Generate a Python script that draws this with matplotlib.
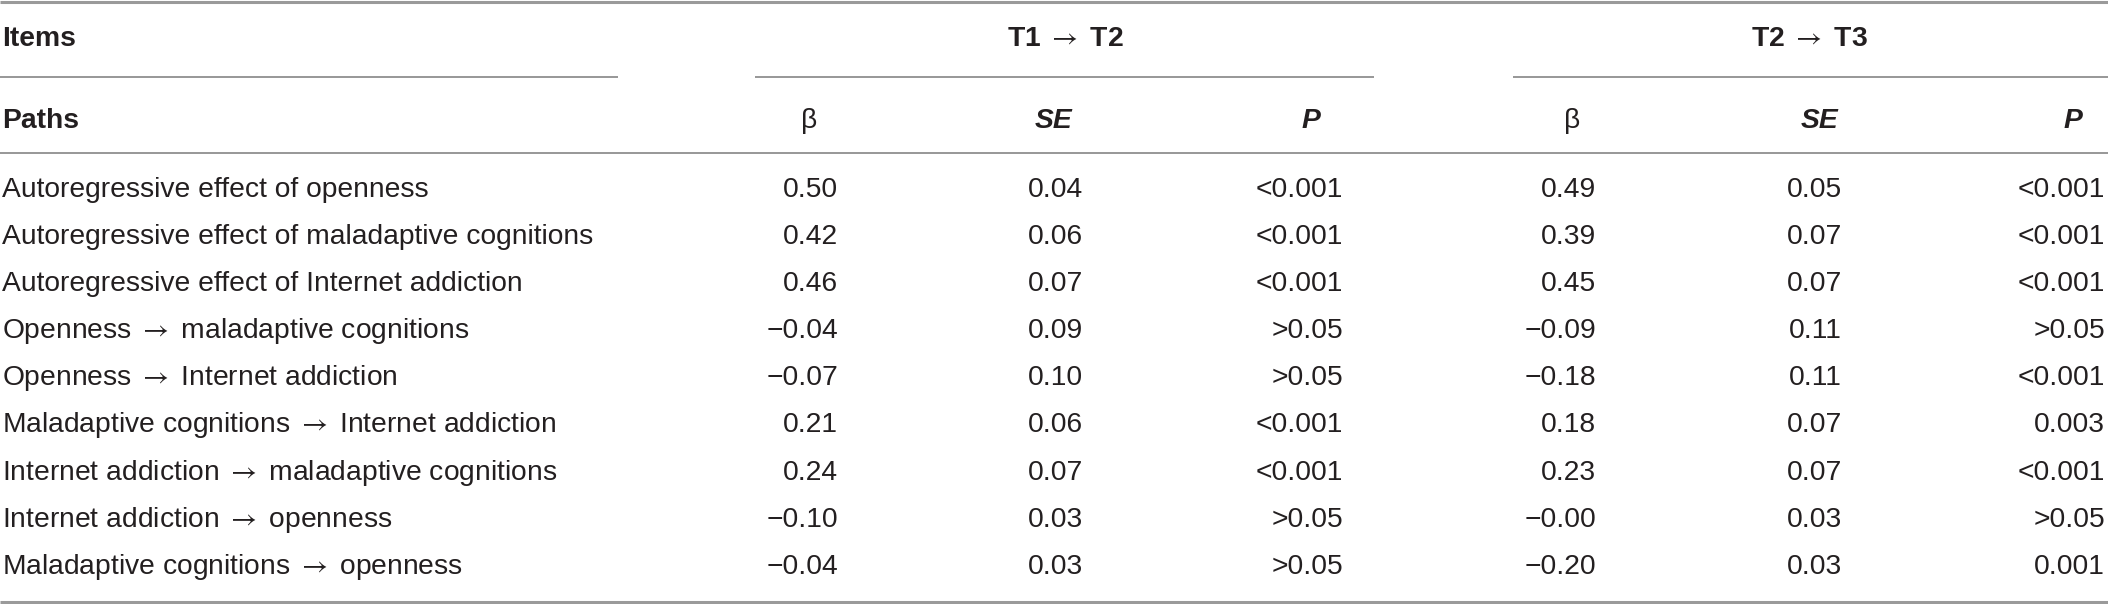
import matplotlib
import matplotlib.pyplot as plt

matplotlib.use("Agg")

plt.rcParams['font.family'] = ['Liberation Sans', 'DejaVu Sans']
plt.rcParams['mathtext.fontset'] = 'stix'

ARROW = r"$\rightarrow$"

# table content
paths = [
    "Autoregressive effect of openness",
    "Autoregressive effect of maladaptive cognitions",
    "Autoregressive effect of Internet addiction",
    f"Openness {ARROW} maladaptive cognitions",
    f"Openness {ARROW} Internet addiction",
    f"Maladaptive cognitions {ARROW} Internet addiction",
    f"Internet addiction {ARROW} maladaptive cognitions",
    f"Internet addiction {ARROW} openness",
    f"Maladaptive cognitions {ARROW} openness",
]
beta_t12 = ["0.50", "0.42", "0.46", "\u22120.04", "\u22120.07", "0.21", "0.24", "\u22120.10", "\u22120.04"]
se_t12 = ["0.04", "0.06", "0.07", "0.09", "0.10", "0.06", "0.07", "0.03", "0.03"]
p_t12 = ["<0.001", "<0.001", "<0.001", ">0.05", ">0.05", "<0.001", "<0.001", ">0.05", ">0.05"]
beta_t23 = ["0.49", "0.39", "0.45", "\u22120.09", "\u22120.18", "0.18", "0.23", "\u22120.00", "\u22120.20"]
se_t23 = ["0.05", "0.07", "0.07", "0.11", "0.11", "0.07", "0.07", "0.03", "0.03"]
p_t23 = ["<0.001", "<0.001", "<0.001", ">0.05", "<0.001", "0.003", "<0.001", ">0.05", "0.001"]
group_titles = [f"T1 {ARROW} T2", f"T2 {ARROW} T3"]

W, H = 2108, 604
fig = plt.figure(figsize=(W / 100, H / 100), dpi=100)
ax = fig.add_axes([0, 0, 1, 1])
ax.set_xlim(0, W)
ax.set_ylim(H, 0)
ax.axis('off')

txt = '#231f20'
fs = 20.3

# layout (pixel units, text y = baseline)
y_head1, y_head2 = 46, 128
row_y0, row_step = 197, 47.1
group_spans = [(755, 1374), (1513, W)]
group_centers = [1065, 1809]
head_x = [[809, 1054, 1311], [1572, 1820, 2073]]
num_right = [[838, 1083, 1343], [1596, 1842, 2105]]

# rules
ax.plot([0, W], [1.5, 1.5], color='#9a9a9a', lw=2.2, solid_capstyle='butt')
ax.plot([0, W], [153, 153], color='#7a7a7a', lw=1.1, solid_capstyle='butt')
ax.plot([0, W], [602, 602], color='#9a9a9a', lw=2.2, solid_capstyle='butt')
ax.plot([0, 618], [77, 77], color='#7a7a7a', lw=1.1, solid_capstyle='butt')
for x0, x1 in group_spans:
    ax.plot([x0, x1], [77, 77], color='#7a7a7a', lw=1.1, solid_capstyle='butt')

# headers
ax.text(2, y_head1, "Items", fontsize=fs, fontweight='bold', color=txt, va='baseline', ha='left')
ax.text(2, y_head2, "Paths", fontsize=fs, fontweight='bold', color=txt, va='baseline', ha='left')
for g, title in enumerate(group_titles):
    ax.text(group_centers[g], y_head1, title, fontsize=fs, fontweight='bold', color=txt,
            va='baseline', ha='center')
    hx = head_x[g]
    ax.text(hx[0], y_head2, "\u03b2", fontsize=fs, color=txt, va='baseline', ha='center')
    ax.text(hx[1], y_head2, "SE", fontsize=fs, fontweight='bold', fontstyle='italic',
            color=txt, va='baseline', ha='center')
    ax.text(hx[2], y_head2, "P", fontsize=fs, fontweight='bold', fontstyle='italic',
            color=txt, va='baseline', ha='center')

# body
cols = [[beta_t12, se_t12, p_t12], [beta_t23, se_t23, p_t23]]
for i, label in enumerate(paths):
    y = row_y0 + i * row_step
    ax.text(2, y, label, fontsize=fs, color=txt, va='baseline', ha='left')
    for g in range(2):
        for c in range(3):
            ax.text(num_right[g][c], y, cols[g][c][i], fontsize=fs, color=txt,
                    va='baseline', ha='right')

fig.savefig("out.png", dpi=100)
